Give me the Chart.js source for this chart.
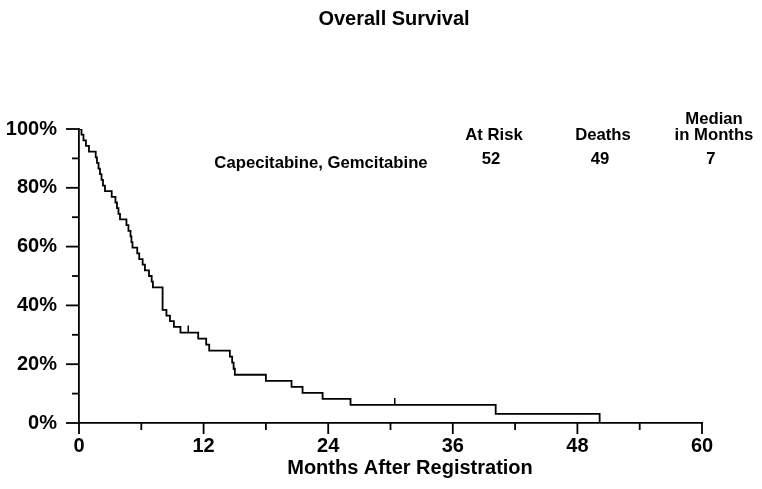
<!DOCTYPE html>
<html><head><meta charset="utf-8">
<script src="https://cdn.jsdelivr.net/npm/chart.js@4.4.1/dist/chart.umd.min.js"></script>
<style>html,body{margin:0;padding:0;background:#fff}#wrap{width:762px;height:489px}</style>
</head><body><div id="wrap"><canvas id="c" width="762" height="489"></canvas></div>
<script>
// Kaplan-Meier step points (month of each drop, survival % after it)
const eventMonths = [0, 0.24, 0.43, 0.67, 0.96, 1.61, 1.73, 1.88, 2.02, 2.17, 2.31, 2.50, 3.15, 3.51, 3.66, 3.80, 3.95,
  4.57, 4.76, 4.96, 5.05, 5.15, 5.61, 5.80, 6.13, 6.35, 6.74, 7.00, 7.12, 8.05, 8.42, 8.76, 9.14, 9.77,
  11.48, 12.25, 12.54, 14.53, 14.75, 14.89, 15.01, 18.00, 20.47, 21.53, 23.46, 26.15, 40.13, 50.14];
const survivalPct = [100, 98.08, 96.15, 94.23, 92.31, 90.38, 88.46, 86.54, 84.62, 82.69, 80.77, 78.85, 76.92, 75.00, 73.08, 71.15, 69.23,
  67.31, 65.38, 63.46, 61.54, 59.62, 57.69, 55.77, 53.85, 51.92, 50.00, 48.08, 46.15, 38.46, 36.54, 34.62, 32.69, 30.77,
  28.72, 26.67, 24.62, 22.56, 20.51, 18.46, 16.41, 14.36, 12.31, 10.26, 8.21, 6.15, 3.08, 0];
const censorMonths = [10.52, 30.41];
const censorPct = [30.77, 6.15];
const xTickLabels = ['0', '12', '24', '36', '48', '60'];
const yTickLabels = ['0%', '20%', '40%', '60%', '80%', '100%'];
const chartTitle = 'Overall Survival';
const xAxisTitle = 'Months After Registration';
const tableHeaders = [['At Risk'], ['Deaths'], ['Median', 'in Months']];
const groupNames = ['Capecitabine, Gemcitabine'];
const tableValues = ['52', '49', '7'];

const FONT = '"Liberation Sans", Arial, Helvetica, sans-serif';

const points = eventMonths.map((m, i) => ({x: m, y: survivalPct[i]}));
const censors = censorMonths.map((m, i) => ({x: m, y: censorPct[i]}));

const decorPlugin = {
  id: 'decor',
  afterDraw(chart) {
    const ctx = chart.ctx;
    const xs = chart.scales.x, ys = chart.scales.y;
    const area = chart.chartArea;
    ctx.save();
    ctx.strokeStyle = '#000';
    // y tick marks (major every 20, minor every 10)
    ctx.lineWidth = 1.8;
    ys.ticks.forEach(t => {
      const y = ys.getPixelForValue(t.value);
      const len = (t.value % 20 === 0) ? 13 : 7;
      ctx.beginPath(); ctx.moveTo(area.left - len, y); ctx.lineTo(area.left, y); ctx.stroke();
    });
    xs.ticks.forEach(t => {
      const x = xs.getPixelForValue(t.value);
      const len = (t.value % 12 === 0) ? 11 : 7;
      ctx.beginPath(); ctx.moveTo(x, area.bottom); ctx.lineTo(x, area.bottom + len); ctx.stroke();
    });
    // censor marks
    ctx.lineWidth = 1.5;
    censors.forEach(c => {
      const x = xs.getPixelForValue(c.x), y = ys.getPixelForValue(c.y);
      ctx.beginPath(); ctx.moveTo(x, y); ctx.lineTo(x, y - 7); ctx.stroke();
    });
    // texts
    ctx.fillStyle = '#000';
    ctx.textAlign = 'center';
    ctx.textBaseline = 'middle';
    ctx.font = 'bold 20px ' + FONT;
    ctx.fillText(chartTitle, 394, 19);
    ctx.fillText(xAxisTitle, 410, 468);
    ctx.font = 'bold 16.7px ' + FONT;
    const colX = [494, 603, 714];
    tableHeaders.forEach((lines, i) => {
      lines.forEach((ln, j) => {
        const y = 135 - (lines.length - 1 - j) * 16;
        ctx.fillText(ln, colX[i], y);
      });
    });
    ctx.fillText(groupNames[0], 321, 163);
    tableValues.forEach((v, i) => ctx.fillText(v, colX[i] - 3, 159));
    ctx.restore();
  }
};

new Chart(document.getElementById('c'), {
  type: 'scatter',
  data: {
    datasets: [{
      data: points,
      showLine: true,
      stepped: 'before',
      borderColor: '#000',
      borderWidth: 1.8,
      pointRadius: 0,
      fill: false
    }]
  },
  options: {
    responsive: false,
    animation: false,
    devicePixelRatio: 1,
    layout: {padding: {left: 6, right: 60, top: 129, bottom: 0}},
    plugins: {legend: {display: false}, tooltip: {enabled: false}, title: {display: false}},
    scales: {
      x: {
        type: 'linear', min: 0, max: 60,
        afterFit: s => { s.height = 66; },
        ticks: {
          stepSize: 6, padding: 0, color: '#000',
          font: {family: FONT, size: 20, weight: 'bold'},
          maxRotation: 0, autoSkip: false,
          callback: v => (v % 12 === 0 ? xTickLabels[v / 12] : '')
        },
        grid: {drawOnChartArea: false, drawTicks: true, tickLength: 11, tickColor: 'rgba(0,0,0,0)'},
        border: {display: true, color: '#000', width: 1.8}
      },
      y: {
        type: 'linear', min: 0, max: 100,
        afterFit: s => { s.width = 73; },
        ticks: {
          stepSize: 10, padding: 9, color: '#000',
          font: {family: FONT, size: 20, weight: 'bold'},
          autoSkip: false,
          callback: v => (v % 20 === 0 ? yTickLabels[v / 20] : '')
        },
        grid: {drawOnChartArea: false, drawTicks: true, tickLength: 13, tickColor: 'rgba(0,0,0,0)'},
        border: {display: true, color: '#000', width: 1.8}
      }
    }
  },
  plugins: [decorPlugin]
});
</script>
</body></html>
